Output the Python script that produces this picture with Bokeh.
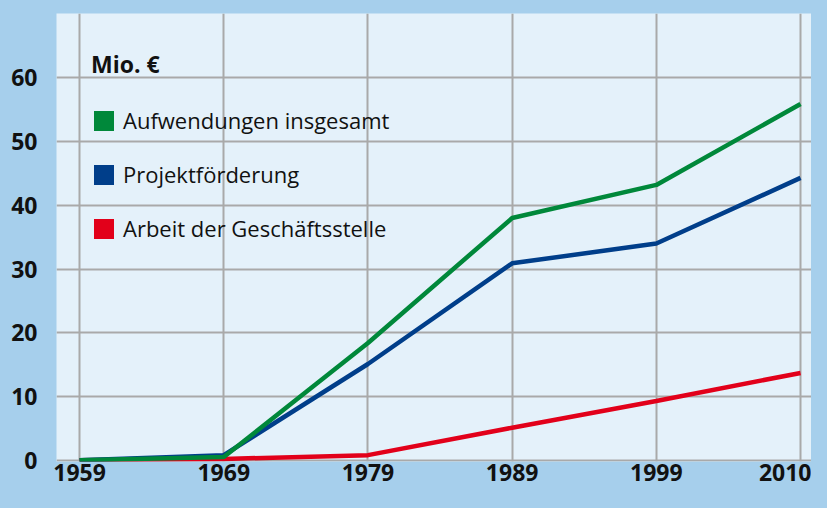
from bokeh.plotting import figure
from bokeh.models import Range1d, FixedTicker, Legend, LegendItem, GlobalInlineStyleSheet, ColumnDataSource
from bokeh.embed import file_html
from bokeh.resources import INLINE

years = ["1959", "1969", "1979", "1989", "1999", "2010"]
aufwendungen = [0.0, 0.5, 18.4, 38.0, 43.2, 55.9]
projektfoerderung = [0.0, 0.8, 15.1, 30.9, 34.0, 44.3]
geschaeftsstelle = [0.0, 0.2, 0.8, 5.1, 9.3, 13.7]
y_ticks = [0, 10, 20, 30, 40, 50, 60]

series_names = ["Aufwendungen insgesamt", "Projektförderung", "Arbeit der Geschäftsstelle"]
GREEN = "#00883a"
BLUE = "#003e8a"
RED = "#e2001a"

OUTER = "#a6cfec"
INNER = "#e4f1fa"
GRID = "#a9a9a9"
FONT = "Open Sans"

xs = list(range(len(years)))
nan = float("nan")

p = figure(width=811, height=492, output_backend="svg", toolbar_location=None,
           x_range=Range1d(-0.16, 5.076), y_range=Range1d(-0.2, 70.1),
           min_border_left=56, min_border_right=0, min_border_top=13, min_border_bottom=31)
p.stylesheets = [GlobalInlineStyleSheet(css="body { background: %s; }" % OUTER)]

p.background_fill_color = INNER
p.border_fill_color = OUTER
p.outline_line_color = None

p.xgrid.ticker = FixedTicker(ticks=xs)
p.ygrid.ticker = FixedTicker(ticks=y_ticks)
for g in (p.xgrid, p.ygrid):
    g.grid_line_color = GRID
    g.grid_line_width = 2

p.xaxis.ticker = FixedTicker(ticks=xs)
p.xaxis.major_label_overrides = {i: y for i, y in enumerate(years)}
p.yaxis.ticker = FixedTicker(ticks=y_ticks)
for ax in (p.xaxis, p.yaxis):
    ax.axis_line_color = None
    ax.major_tick_line_color = None
    ax.minor_tick_line_color = None
    ax.major_tick_out = 0
    ax.major_tick_in = 0
    ax.major_label_text_font = FONT
    ax.major_label_text_font_style = "bold"
    ax.major_label_text_font_size = "23px"
    ax.major_label_text_color = "#111111"
p.xaxis.major_label_standoff = 2
p.yaxis.major_label_standoff = 19

p.line(xs, geschaeftsstelle, line_color=RED, line_width=4.5)
p.line(xs, projektfoerderung, line_color=BLUE, line_width=4.5)
p.line(xs, aufwendungen, line_color=GREEN, line_width=4.5)

items = []
for name, col in zip(series_names, [GREEN, BLUE, RED]):
    src = ColumnDataSource(dict(l=[nan], r=[nan], b=[nan], t=[nan]))
    r = p.quad(left="l", right="r", bottom="b", top="t", source=src,
               fill_color=col, line_color=None)
    items.append(LegendItem(label=name, renderers=[r]))

legend = Legend(items=items, location="top_left", title="Mio. €",
                title_text_font=FONT, title_text_font_style="bold",
                title_text_font_size="23px", title_text_color="#111111",
                title_standoff=25,
                label_text_font=FONT, label_text_font_size="22px",
                label_text_color="#111111", label_standoff=7,
                glyph_width=25, glyph_height=25, label_height=20,
                spacing=24, margin=35, padding=0,
                background_fill_alpha=0, border_line_color=None)
p.add_layout(legend)

open("out.html", "w").write(file_html(p, INLINE))
